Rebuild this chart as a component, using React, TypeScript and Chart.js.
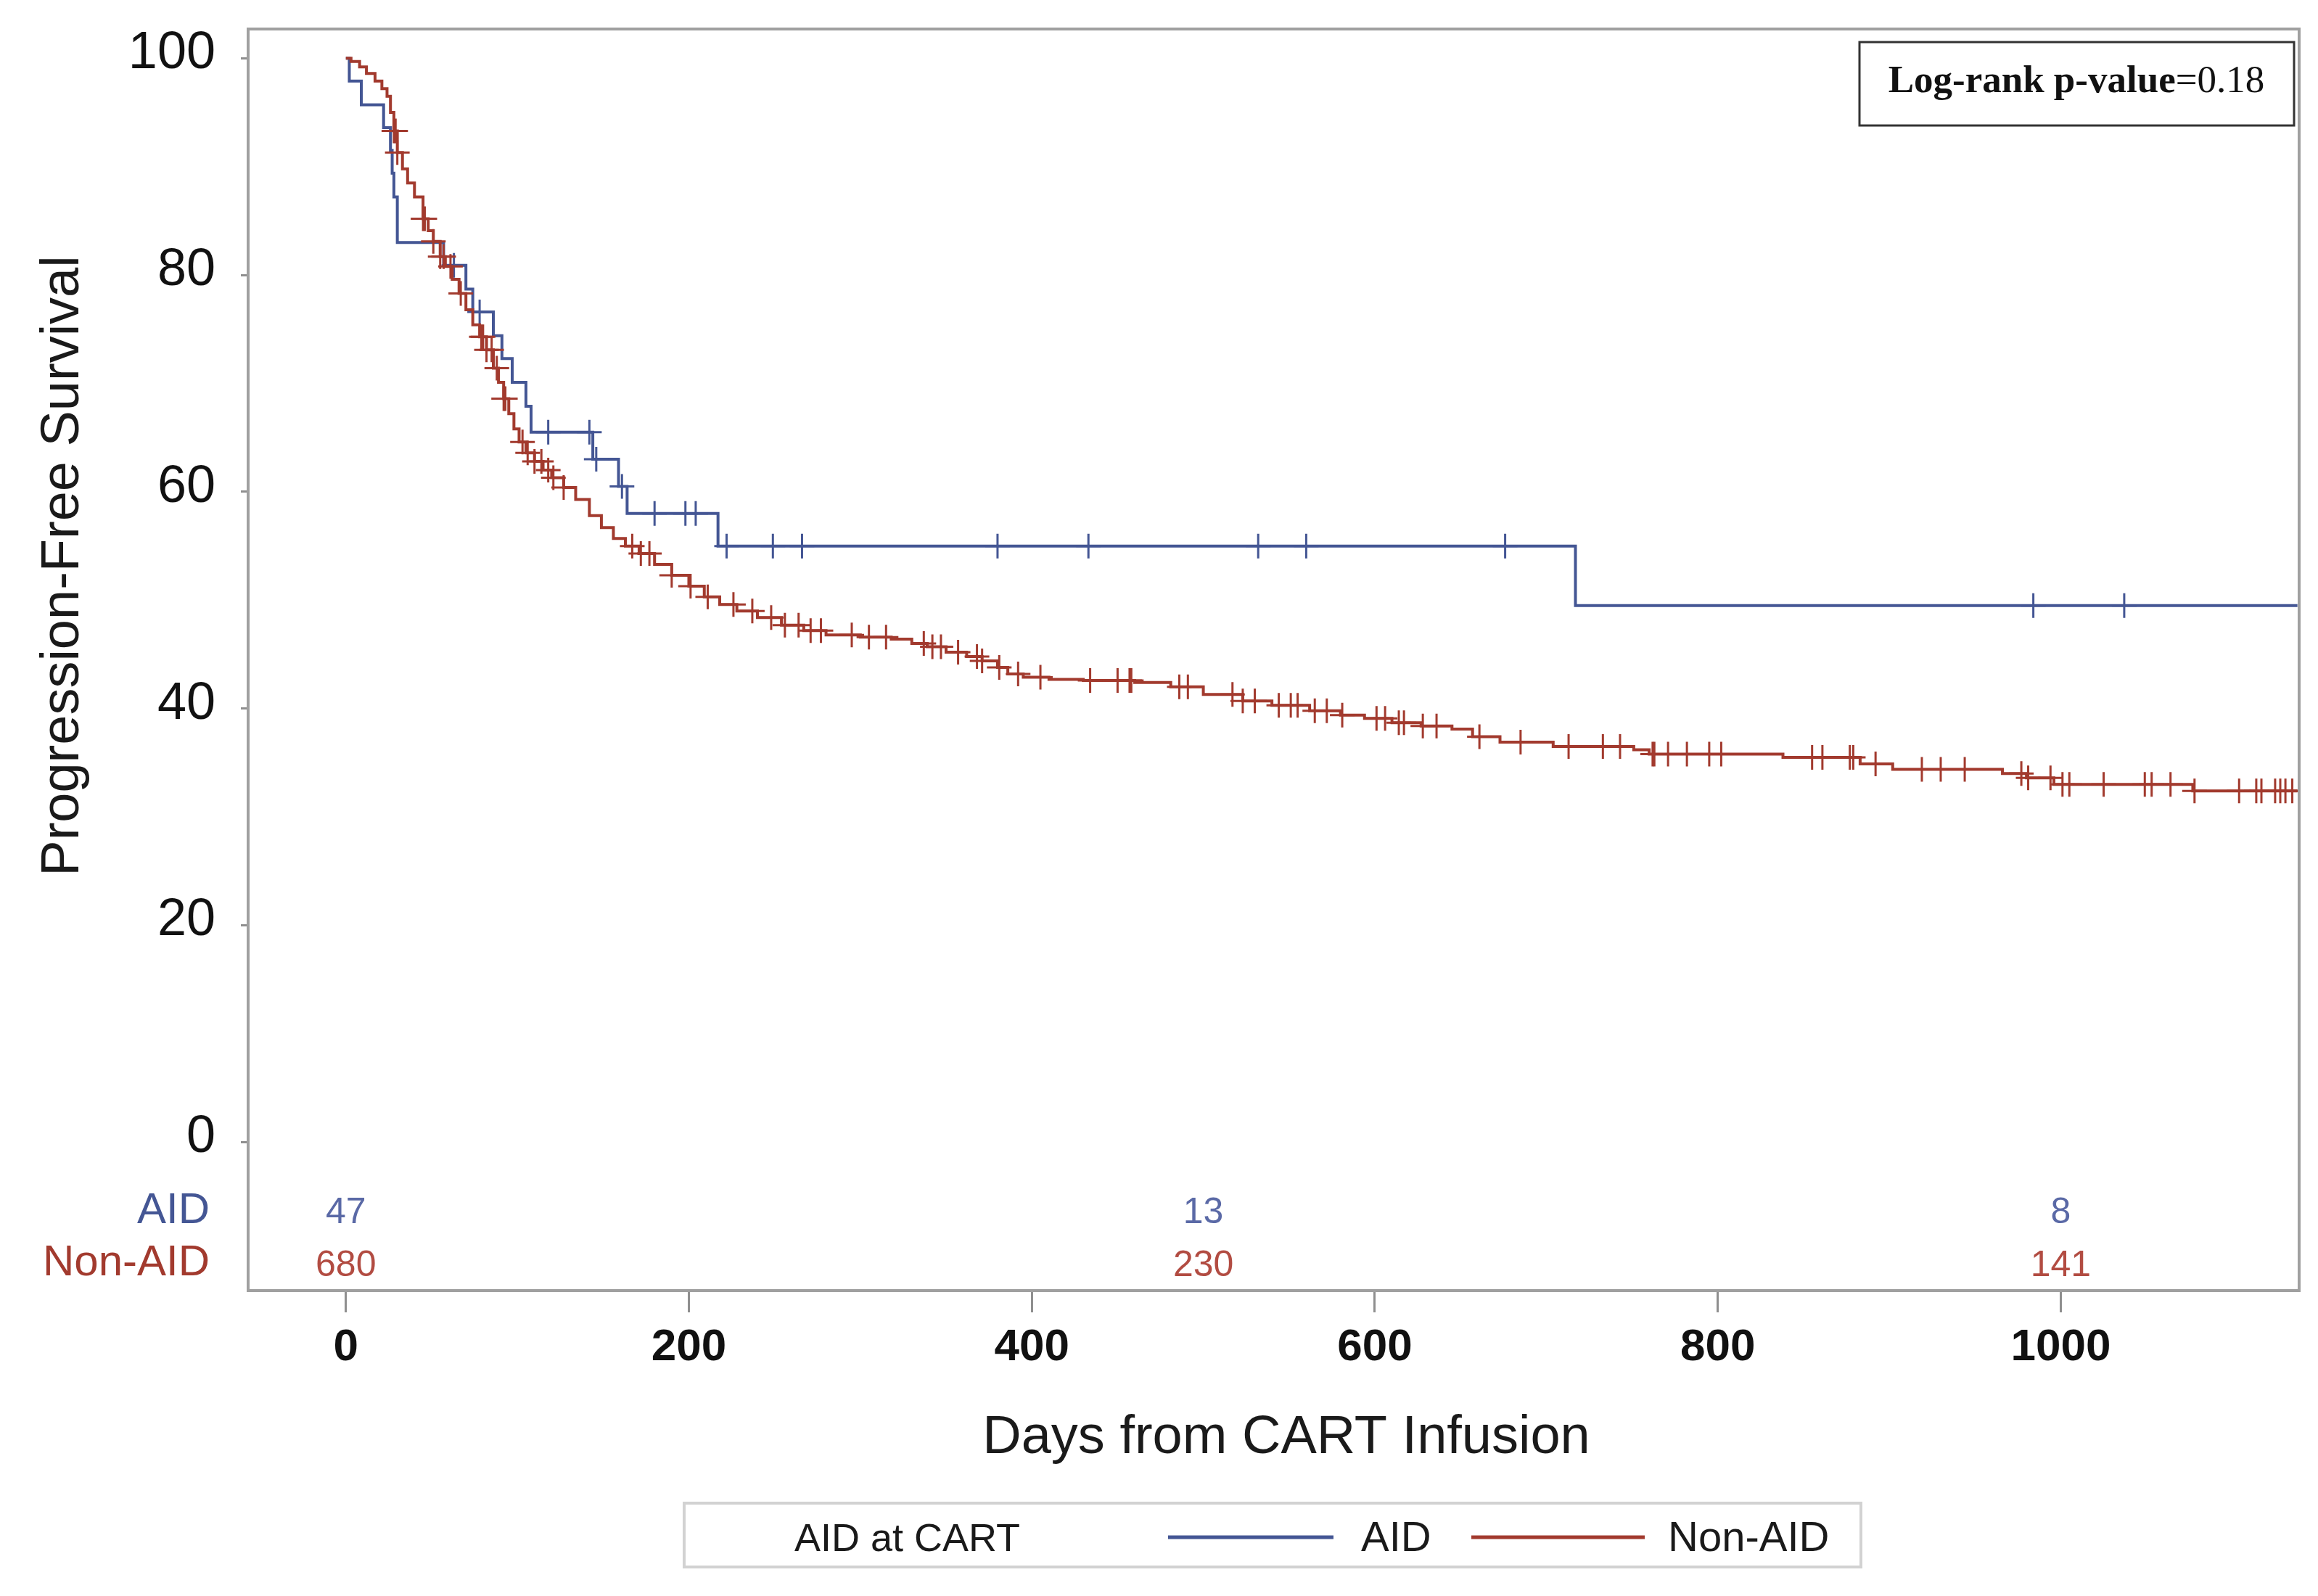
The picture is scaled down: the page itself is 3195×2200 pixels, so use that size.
import { useEffect, useRef } from "react"
import { Chart, registerables } from "chart.js"

Chart.register(...registerables)

const SANS = '"Liberation Sans", Arial, sans-serif'
const SERIF = '"Liberation Serif", "Times New Roman", serif'
const BLUE = "#445694"
const RED = "#A23A2E"

// Kaplan-Meier steps, AID group (n = 47)
const aidDays = [0, 2, 9, 22, 26, 27, 28, 30, 57, 70, 74, 86, 91, 97, 105, 108, 144, 159, 164, 217, 717, 1138]
const aidSurv = [100, 97.9, 95.7, 93.6, 91.5, 89.4, 87.2, 83.0, 80.9, 78.7, 76.6, 74.4, 72.3, 70.1, 67.9, 65.5, 63.0, 60.5, 58.0, 55.0, 49.5, 49.5]
const aidCensored = [63, 78, 118, 142, 146, 161, 180, 198, 204, 222, 249, 266, 380, 433, 532, 560, 676, 984, 1037]

// Kaplan-Meier steps, Non-AID group (n = 680)
const nonAidDays = [
  0, 3, 8, 12, 17, 21, 24, 26, 28, 30, 33, 36, 40, 45, 48, 51, 55, 58, 62, 66,
  70, 74, 78, 82, 86, 89, 92, 95, 98, 101, 105, 110, 115, 120, 127, 134, 142, 149, 156, 163,
  171, 180, 190, 200, 209, 218, 228, 240, 254, 267, 280, 300, 318, 330, 339, 350, 362, 371, 380, 386,
  395, 410, 430, 460, 481, 500, 523, 540, 562, 580, 594, 610, 627, 645, 657, 673, 704, 751, 760, 838,
  883, 902, 966, 980, 996, 1077, 1138,
]
const nonAidSurv = [
  100, 99.7, 99.2, 98.6, 97.9, 97.2, 96.5, 95.0, 93.3, 91.3, 89.8, 88.5, 87.2, 85.2, 84.1, 83.1, 81.7, 80.8, 79.6, 78.3,
  76.8, 75.4, 74.3, 73.1, 71.4, 70.1, 68.6, 67.2, 65.8, 64.6, 63.6, 62.8, 62.0, 61.3, 60.4, 59.3, 57.8, 56.7, 55.7, 55.0,
  54.3, 53.3, 52.3, 51.3, 50.3, 49.6, 49.0, 48.4, 47.7, 47.2, 46.8, 46.6, 46.4, 46.0, 45.7, 45.2, 44.8, 44.4, 43.8, 43.2,
  42.9, 42.7, 42.6, 42.4, 42.0, 41.3, 40.7, 40.3, 39.8, 39.4, 39.1, 38.7, 38.4, 38.1, 37.4, 36.9, 36.5, 36.2, 35.8, 35.5,
  34.9, 34.4, 34.0, 33.6, 33.0, 32.4, 32.4,
]
const nonAidCensored = [
  28, 29, 30, 45, 46, 51, 55, 57, 61, 67, 79, 80, 82, 85, 88, 92, 93, 103, 106, 110, 114, 118, 121, 127,
  167, 172, 177, 190, 201, 211, 226, 237, 248, 256, 264, 271, 277, 295, 305, 315, 337, 342, 347, 357, 368, 371,
  381, 392, 405, 434, 450, 457, 458, 486, 491, 517, 523, 530, 544, 551, 555, 565, 572, 581, 601, 606, 614, 617,
  628, 636, 661, 685, 713, 733, 743, 762, 763, 771, 782, 795, 802, 855, 861, 877, 879, 892, 919, 930, 944, 977,
  981, 994, 1001, 1005, 1025, 1049, 1053, 1064, 1078, 1104, 1114, 1117, 1125, 1128, 1131, 1135,
]

// Number at risk table
const riskTimes = [0, 500, 1000]
const aidAtRisk = [47, 13, 8]
const nonAidAtRisk = [680, 230, 141]

const xTicks = [0, 200, 400, 600, 800, 1000]
const yTicks = [0, 20, 40, 60, 80, 100]

// value of a step curve at time t
function survivalAt(days: number[], surv: number[], t: number) {
  let v = surv[0]
  for (let i = 0; i < days.length; i++) {
    if (days[i] <= t) v = surv[i]
    else break
  }
  return v
}

const decorPlugin = {
  id: "kmDecor",
  afterDraw(chart: any) {
    const { ctx, chartArea, scales } = chart
    const xs = scales.x
    ctx.save()

    // plot frame
    ctx.strokeStyle = "#a0a0a0"
    ctx.lineWidth = 4
    ctx.strokeRect(chartArea.left, chartArea.top, chartArea.right - chartArea.left, chartArea.bottom - chartArea.top)

    // y axis title
    ctx.save()
    ctx.translate(88, 780)
    ctx.rotate(-Math.PI / 2)
    ctx.fillStyle = "#1a1a1a"
    ctx.font = `74px ${SANS}`
    ctx.textAlign = "center"
    ctx.textBaseline = "middle"
    ctx.fillText("Progression-Free Survival", 0, 0)
    ctx.restore()

    // at-risk table
    ctx.textBaseline = "middle"
    ctx.font = `60px ${SANS}`
    ctx.textAlign = "right"
    ctx.fillStyle = BLUE
    ctx.fillText("AID", 289, 1669)
    ctx.fillStyle = RED
    ctx.fillText("Non-AID", 289, 1741)
    ctx.font = `50px ${SANS}`
    ctx.textAlign = "center"
    riskTimes.forEach((t, i) => {
      const px = xs.getPixelForValue(t)
      ctx.fillStyle = "#5a69a6"
      ctx.fillText(String(aidAtRisk[i]), px, 1672)
      ctx.fillStyle = "#b24c42"
      ctx.fillText(String(nonAidAtRisk[i]), px, 1745)
    })

    // x axis title
    ctx.fillStyle = "#1a1a1a"
    ctx.font = `74px ${SANS}`
    ctx.textAlign = "center"
    ctx.textBaseline = "alphabetic"
    ctx.fillText("Days from CART Infusion", 1773, 2003)

    // legend
    ctx.strokeStyle = "#d2d2d2"
    ctx.lineWidth = 4
    ctx.strokeRect(943, 2072, 1622, 88)
    ctx.fillStyle = "#1a1a1a"
    ctx.textAlign = "left"
    ctx.font = `54px ${SANS}`
    ctx.fillText("AID at CART", 1095, 2138)
    ctx.lineWidth = 5
    ctx.strokeStyle = BLUE
    ctx.beginPath()
    ctx.moveTo(1610, 2119)
    ctx.lineTo(1838, 2119)
    ctx.stroke()
    ctx.strokeStyle = RED
    ctx.beginPath()
    ctx.moveTo(2028, 2119)
    ctx.lineTo(2267, 2119)
    ctx.stroke()
    ctx.font = `58px ${SANS}`
    ctx.fillText("AID", 1876, 2138)
    ctx.fillText("Non-AID", 2299, 2138)

    // log-rank box
    ctx.strokeStyle = "#333333"
    ctx.lineWidth = 3
    ctx.strokeRect(2563, 58, 599, 115)
    ctx.fillStyle = "#111111"
    const boldPart = "Log-rank p-value"
    const plainPart = "=0.18"
    ctx.font = `bold 53px ${SERIF}`
    const wb = ctx.measureText(boldPart).width
    ctx.font = `53px ${SERIF}`
    const wp = ctx.measureText(plainPart).width
    const startX = 2862 - (wb + wp) / 2
    ctx.font = `bold 53px ${SERIF}`
    ctx.fillText(boldPart, startX, 127)
    ctx.font = `53px ${SERIF}`
    ctx.fillText(plainPart, startX + wb, 127)

    ctx.restore()
  },
}

export default function App() {
  const canvasRef = useRef<HTMLCanvasElement>(null)
  const chartRef = useRef<Chart | null>(null)

  useEffect(() => {
    if (!canvasRef.current) return
    const ctx = canvasRef.current.getContext("2d")
    if (!ctx) return
    if (chartRef.current) chartRef.current.destroy()

    const aidLine = aidDays.map((d, i) => ({ x: d, y: aidSurv[i] }))
    const nonAidLine = nonAidDays.map((d, i) => ({ x: d, y: nonAidSurv[i] }))
    const aidMarks = aidCensored.map((d) => ({ x: d, y: survivalAt(aidDays, aidSurv, d) }))
    const nonAidMarks = nonAidCensored.map((d) => ({ x: d, y: survivalAt(nonAidDays, nonAidSurv, d) }))

    chartRef.current = new Chart(ctx, {
      type: "scatter",
      data: {
        datasets: [
          {
            label: "Non-AID censored",
            data: nonAidMarks,
            pointStyle: "cross",
            pointRadius: 17,
            pointBorderWidth: 3,
            borderColor: RED,
            backgroundColor: RED,
            showLine: false,
          },
          {
            label: "Non-AID",
            data: nonAidLine,
            showLine: true,
            stepped: "before",
            borderColor: RED,
            borderWidth: 4,
            pointRadius: 0,
            fill: false,
          },
          {
            label: "AID censored",
            data: aidMarks,
            pointStyle: "cross",
            pointRadius: 17,
            pointBorderWidth: 3,
            borderColor: BLUE,
            backgroundColor: BLUE,
            showLine: false,
          },
          {
            label: "AID",
            data: aidLine,
            showLine: true,
            stepped: "before",
            borderColor: BLUE,
            borderWidth: 4,
            pointRadius: 0,
            fill: false,
          },
        ],
      },
      options: {
        animation: false,
        responsive: false,
        devicePixelRatio: 1,
        layout: { padding: { top: 40, right: 26, left: 0, bottom: 0 } },
        plugins: {
          legend: { display: false },
          tooltip: { enabled: false },
        },
        scales: {
          x: {
            type: "linear",
            min: -57,
            max: 1139,
            afterBuildTicks: (s: any) => {
              s.ticks = xTicks.map((v) => ({ value: v }))
            },
            afterFit: (s: any) => {
              s.height = 421
              s.paddingLeft = 0
              s.paddingRight = 0
            },
            border: { display: false },
            grid: { display: true, drawOnChartArea: false, drawTicks: true, tickLength: 30, color: "#8f8f8f", lineWidth: 3 },
            ticks: {
              color: "#111111",
              font: { family: SANS, size: 62, weight: "bold" },
              padding: 12,
              maxRotation: 0,
              callback: (v: any) => String(v),
            },
          },
          y: {
            type: "linear",
            min: -13.7,
            max: 102.7,
            afterBuildTicks: (s: any) => {
              s.ticks = yTicks.map((v) => ({ value: v }))
            },
            afterFit: (s: any) => {
              s.width = 342
              s.paddingTop = 0
              s.paddingBottom = 0
            },
            border: { display: false },
            grid: { display: true, drawOnChartArea: false, drawTicks: true, tickLength: 10, color: "#8f8f8f", lineWidth: 3 },
            ticks: {
              color: "#111111",
              font: { family: SANS, size: 72 },
              padding: 35,
              labelOffset: -6,
              callback: (v: any) => String(v),
            },
          },
        },
      },
      plugins: [decorPlugin],
    } as any)

    return () => {
      if (chartRef.current) {
        chartRef.current.destroy()
        chartRef.current = null
      }
    }
  }, [])

  return (
    <div style={{ position: "absolute", left: 0, top: 0, width: 3195, height: 2200, background: "#ffffff" }}>
      <canvas ref={canvasRef} width={3195} height={2200} style={{ display: "block", width: 3195, height: 2200 }} />
    </div>
  )
}
